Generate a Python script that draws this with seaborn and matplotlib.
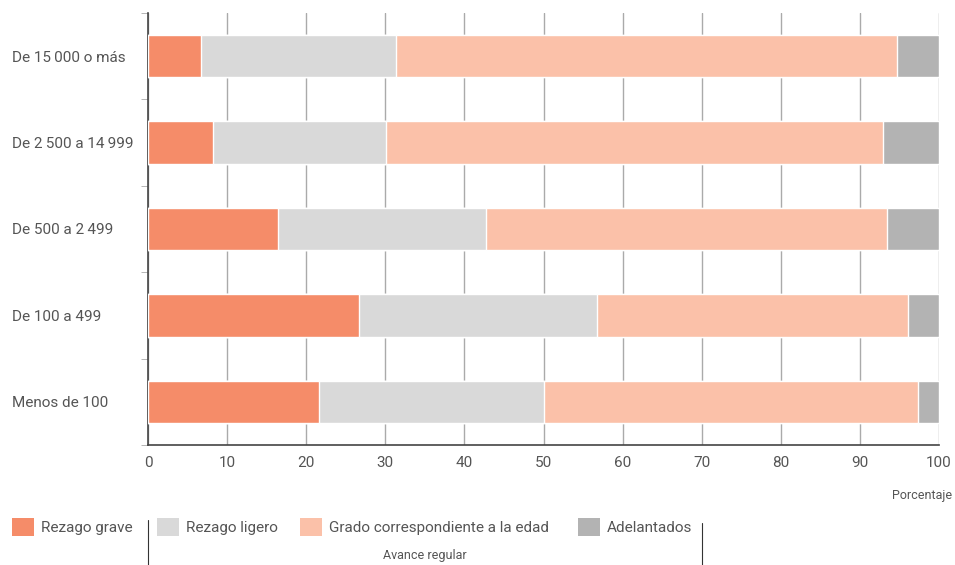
import pandas as pd
import numpy as np
import seaborn as sns
import matplotlib.pyplot as plt
from matplotlib.patches import Patch
from matplotlib.lines import Line2D

# Population size categories (top to bottom)
categories = ['De 15\u2009000 o más', 'De 2\u2009500 a 14\u2009999', 'De 500 a 2\u2009499',
              'De 100 a 499', 'Menos de 100']

# Percentages for each group
rezago_grave = [6.7, 8.2, 16.4, 26.7, 21.6]
rezago_ligero = [24.6, 21.9, 26.3, 30.1, 28.5]
grado_edad = [63.4, 62.8, 50.7, 39.3, 47.2]
adelantados = [5.3, 7.1, 6.6, 3.9, 2.7]

series = ['Rezago grave', 'Rezago ligero', 'Grado correspondiente a la edad', 'Adelantados']
colors = ['#F58C69', '#D9D9D9', '#FBC1A9', '#B3B3B3']

df = pd.DataFrame({'cat': categories, 'Rezago grave': rezago_grave,
                   'Rezago ligero': rezago_ligero,
                   'Grado correspondiente a la edad': grado_edad,
                   'Adelantados': adelantados})
cum = df[series].cumsum(axis=1)
cum['cat'] = df['cat']

sns.set_style('white')
plt.rcParams['font.family'] = ['Roboto', 'DejaVu Sans']
text_color = '#555555'

fig = plt.figure(figsize=(9.55, 5.65), dpi=100)
ax = fig.add_axes([148 / 955, 120 / 565, 791 / 955, 432 / 565])

# stacked bars: draw cumulative totals, largest first
for s, c in reversed(list(zip(series, colors))):
    sns.barplot(data=cum, y='cat', x=s, orient='h', color=c, width=0.49,
                saturation=1, ax=ax, zorder=3)

ax.set_xlim(0, 100)
ax.set_ylim(4.5, -0.5)
ax.set_xticks(range(0, 101, 10))
ax.grid(axis='x', color='#aaaaaa', linewidth=1, zorder=0)
ax.grid(axis='y', visible=False)
ax.set_axisbelow(True)
ax.set_xlabel('')
ax.set_ylabel('')
for sp in ['top', 'right']:
    ax.spines[sp].set_visible(False)
for sp in ['left', 'bottom']:
    ax.spines[sp].set_color('#444444')
    ax.spines[sp].set_linewidth(1.2)

ax.set_yticks(np.arange(-0.5, 5, 1), minor=True)
ax.tick_params(axis='y', which='minor', length=5, color='#aaaaaa', left=True)
ax.tick_params(axis='y', which='major', length=0, pad=98, labelsize=11, labelcolor=text_color)
for lab in ax.get_yticklabels():
    lab.set_ha('left')
ax.tick_params(axis='x', length=0, pad=8, labelsize=11, labelcolor=text_color)

fig.text(952 / 955, 1 - 495 / 565, 'Porcentaje', ha='right', va='center',
         fontsize=9, color=text_color)

# legend entries placed one by one (uneven spacing in the original)
legend_x = [12, 157, 300, 578]
for name, c, lx in zip(series, colors, legend_x):
    leg = fig.legend([Patch(facecolor=c, edgecolor='none')], [name], loc='center left',
                     bbox_to_anchor=((lx - 14) / 955, 1 - 527 / 565), frameon=False,
                     fontsize=11, handlelength=1.45, handleheight=1.45,
                     handletextpad=0.45, labelcolor=text_color)

for x0, y0 in [(148, 520), (702, 523)]:
    fig.add_artist(Line2D([x0 / 955, x0 / 955], [1 - y0 / 565, 0], color='#333333',
                          linewidth=0.8))
fig.text(425 / 955, 1 - 555 / 565, 'Avance regular', ha='center', va='center',
         fontsize=9, color=text_color)

fig.savefig('out.png', dpi=100)
